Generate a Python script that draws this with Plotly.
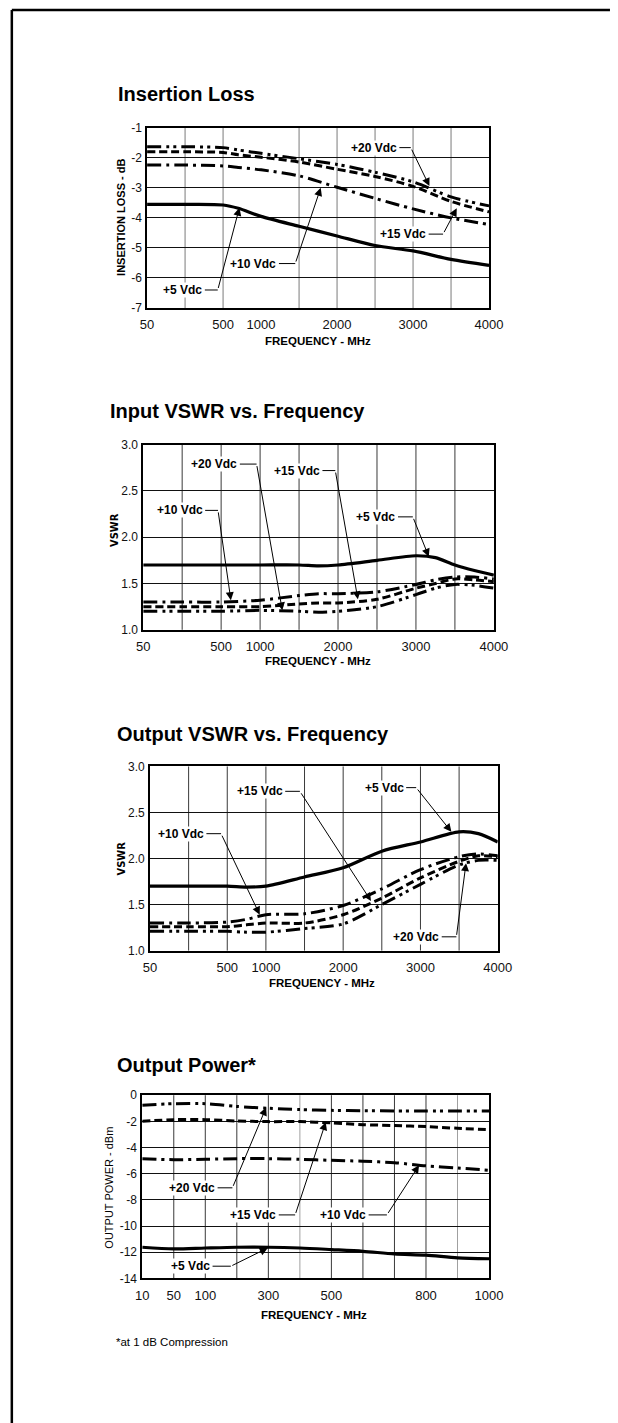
import numpy as np
import plotly.graph_objects as go

# ---------------- data ----------------
SERIES = ["+5 Vdc", "+10 Vdc", "+15 Vdc", "+20 Vdc"]

# Insertion loss (dB) vs frequency (MHz)
IL_FREQ = [50, 275, 500, 700, 1000, 1500, 2000, 2500, 3000, 3500, 4000]
IL_5V = [-3.55, -3.55, -3.57, -3.68, -3.95, -4.28, -4.60, -4.92, -5.10, -5.38, -5.58]
IL_10V = [-2.24, -2.24, -2.27, -2.32, -2.40, -2.60, -2.98, -3.35, -3.70, -4.00, -4.22]
IL_15V = [-1.80, -1.80, -1.82, -1.90, -1.98, -2.14, -2.38, -2.62, -2.95, -3.45, -3.80]
IL_20V = [-1.63, -1.63, -1.66, -1.74, -1.85, -2.03, -2.22, -2.48, -2.80, -3.30, -3.60]

# Input VSWR vs frequency (MHz)
IV_FREQ = [50, 275, 500, 1000, 1500, 1750, 2000, 2500, 3000, 3250, 3500, 3750, 4000]
IV_5V = [1.70, 1.70, 1.70, 1.70, 1.70, 1.69, 1.70, 1.75, 1.80, 1.78, 1.70, 1.64, 1.59]
IV_10V = [1.30, 1.30, 1.30, 1.32, 1.37, 1.39, 1.39, 1.41, 1.49, 1.54, 1.57, 1.57, 1.55]
IV_15V = [1.25, 1.25, 1.25, 1.25, 1.28, 1.29, 1.29, 1.33, 1.45, 1.50, 1.55, 1.54, 1.52]
IV_20V = [1.20, 1.20, 1.20, 1.21, 1.20, 1.19, 1.20, 1.25, 1.38, 1.45, 1.49, 1.48, 1.45]

# Output VSWR vs frequency (MHz)
OV_FREQ = [50, 275, 500, 750, 1000, 1500, 2000, 2500, 3000, 3500, 3750, 4000]
OV_5V = [1.70, 1.70, 1.70, 1.69, 1.70, 1.80, 1.90, 2.08, 2.18, 2.29, 2.27, 2.18]
OV_10V = [1.30, 1.30, 1.31, 1.34, 1.39, 1.40, 1.49, 1.67, 1.88, 2.02, 2.05, 2.03]
OV_15V = [1.26, 1.26, 1.26, 1.28, 1.30, 1.30, 1.39, 1.57, 1.79, 1.97, 2.03, 2.02]
OV_20V = [1.21, 1.21, 1.21, 1.20, 1.20, 1.24, 1.29, 1.50, 1.72, 1.93, 1.98, 1.98]

# Output power (dBm) vs frequency (MHz)
OP_FREQ = [10, 50, 100, 200, 300, 400, 500, 600, 700, 800, 900, 1000]
OP_5V = [-11.62, -11.75, -11.68, -11.62, -11.62, -11.68, -11.80, -11.93, -12.13, -12.23, -12.43, -12.50]
OP_10V = [-4.85, -4.93, -4.90, -4.85, -4.85, -4.90, -4.98, -5.05, -5.16, -5.40, -5.56, -5.74]
OP_15V = [-2.00, -1.87, -1.87, -1.97, -2.02, -2.02, -2.12, -2.25, -2.32, -2.40, -2.53, -2.63]
OP_20V = [-0.76, -0.65, -0.65, -0.86, -1.00, -1.10, -1.16, -1.19, -1.20, -1.20, -1.20, -1.20]

# Axis tick labels
GHZ_TICK_FREQ = [50, 500, 1000, 2000, 3000, 4000]
GHZ_GRID_FREQ = [275, 500, 1000, 1500, 2000, 2500, 3000, 3500]
PWR_TICK_FREQ = [10, 50, 100, 300, 500, 800, 1000]
PWR_GRID_FREQ = [50, 100, 200, 300, 400, 500, 600, 700, 800, 900]
IL_YTICKS = [-7, -6, -5, -4, -3, -2, -1]
VSWR_YTICKS = [1.0, 1.5, 2.0, 2.5, 3.0]
OP_YTICKS = [-14, -12, -10, -8, -6, -4, -2, 0]

# piecewise-linear frequency scales used by the original graphs
GHZ_BREAKS = ([50, 500, 4000], [0, 2, 9])
PWR_BREAKS = ([10, 50, 100, 1000], [0, 1, 2, 11])


def fscale(freq, breaks):
    return np.interp(np.asarray(freq, dtype=float), breaks[0], breaks[1])


# ---------------- layout helpers ----------------
W, H = 618, 1423
FONT = "Liberation Sans, Arial, sans-serif"
NARROW = "Liberation Sans Narrow, Arial Narrow, DejaVu Sans Condensed, Liberation Sans, sans-serif"

DASH = {
    "+5 Vdc": "solid",
    "+10 Vdc": "14px,5px,3px,5px",
    "+15 Vdc": "8px,4px",
    "+20 Vdc": "14px,5px,3px,4px,3px,5px",
}


def px_x(p):
    return p / W


def px_y(p):
    return 1 - p / H


fig = go.Figure()

# plot boxes in pixels: (left, right, top, bottom)
BOXES = [(145, 499, 122, 304), (141, 504, 442, 629), (148, 508, 767, 953), (140, 499, 1099, 1284)]

charts = [
    dict(freq=IL_FREQ, ys=[IL_5V, IL_10V, IL_15V, IL_20V], brk=GHZ_BREAKS, xt=GHZ_TICK_FREQ,
         grid=GHZ_GRID_FREQ, gridskip=[1000], yt=IL_YTICKS, ytxt=[str(v) for v in IL_YTICKS],
         yr=[-7, -1], vcol="#7a7a7a"),
    dict(freq=IV_FREQ, ys=[IV_5V, IV_10V, IV_15V, IV_20V], brk=GHZ_BREAKS, xt=GHZ_TICK_FREQ,
         grid=GHZ_GRID_FREQ, gridskip=[], yt=VSWR_YTICKS, ytxt=["%.1f" % v for v in VSWR_YTICKS],
         yr=[1, 3], vcol="#3a3a3a"),
    dict(freq=OV_FREQ, ys=[OV_5V, OV_10V, OV_15V, OV_20V], brk=GHZ_BREAKS, xt=GHZ_TICK_FREQ,
         grid=GHZ_GRID_FREQ, gridskip=[], yt=VSWR_YTICKS, ytxt=["%.1f" % v for v in VSWR_YTICKS],
         yr=[1, 3], vcol="#3a3a3a"),
    dict(freq=OP_FREQ, ys=[OP_5V, OP_10V, OP_15V, OP_20V], brk=PWR_BREAKS, xt=PWR_TICK_FREQ,
         grid=PWR_GRID_FREQ, gridskip=[], yt=OP_YTICKS, ytxt=[str(v) for v in OP_YTICKS],
         yr=[-14, 0], vcol="#3a3a3a"),
]

shapes = []
annotations = []

for i, ch in enumerate(charts):
    n = i + 1
    xa = "x" if n == 1 else "x%d" % n
    ya = "y" if n == 1 else "y%d" % n
    l, r, t, b = BOXES[i]
    xmax = float(ch["brk"][1][-1])
    for name, vals in zip(SERIES, ch["ys"]):
        fig.add_trace(go.Scatter(
            x=fscale(ch["freq"], ch["brk"]), y=vals, mode="lines", name=name,
            line=dict(color="black", width=3.2 if name == "+5 Vdc" else 3, dash=DASH[name],
                      shape="spline", smoothing=0.8),
            showlegend=False, xaxis=xa, yaxis=ya, hoverinfo="skip"))
    fig.update_layout(**{
        ("xaxis" if n == 1 else "xaxis%d" % n): dict(
            domain=[px_x(l), px_x(r)], anchor=ya, range=[0, xmax],
            tickmode="array", tickvals=list(fscale(ch["xt"], ch["brk"])),
            ticktext=[str(v) for v in ch["xt"]], ticks="", showgrid=False, zeroline=False,
            showline=True, mirror=True, linecolor="black", linewidth=1.6,
            tickfont=dict(family=FONT, size=13, color="#111"), ticklabelstandoff=4,
            fixedrange=True),
        ("yaxis" if n == 1 else "yaxis%d" % n): dict(
            domain=[px_y(b), px_y(t)], anchor=xa, range=ch["yr"],
            tickmode="array", tickvals=ch["yt"], ticktext=ch["ytxt"], ticks="",
            showgrid=True, gridcolor="#111", gridwidth=1, zeroline=False,
            showline=True, mirror=True, linecolor="black", linewidth=1.6,
            tickfont=dict(family=FONT, size=12, color="#111"), ticklabelstandoff=1,
            fixedrange=True),
    })
    # vertical grid lines
    for gf in ch["grid"]:
        if gf in ch["gridskip"]:
            continue
        gx = float(fscale(gf, ch["brk"]))
        col = ch["vcol"]
        if n == 4 and gf in (400, 900):
            col = "#a0a0a0"
        shapes.append(dict(type="line", xref=xa, yref=ya + " domain", x0=gx, x1=gx, y0=0, y1=1,
                           line=dict(color=col, width=1), layer="below"))

# ---------------- callout labels ----------------
# (chart, text, text right x, text y, elbow x, tip x, tip y)  — x in scale units
CALLOUTS = [
    (1, "+20 Vdc", 6.60, -1.66, 6.94, 7.43, -2.94),
    (1, "+15 Vdc", 7.37, -4.54, 7.79, 8.15, -3.68),
    (1, "+10 Vdc", 3.43, -5.52, 3.90, 4.57, -3.00),
    (1, "+5 Vdc", 1.48, -6.40, 1.86, 2.43, -3.66),
    (2, "+20 Vdc", 2.44, 2.79, 2.91, 3.57, 1.21),
    (2, "+15 Vdc", 4.56, 2.72, 4.93, 5.51, 1.33),
    (2, "+10 Vdc", 1.55, 2.29, 1.92, 2.25, 1.32),
    (2, "+5 Vdc", 6.50, 2.22, 6.92, 7.33, 1.79),
    (3, "+15 Vdc", 3.46, 2.73, 3.88, 5.72, 1.54),
    (3, "+5 Vdc", 6.59, 2.77, 6.89, 7.80, 2.29),
    (3, "+10 Vdc", 1.42, 2.27, 1.84, 2.84, 1.39),
    (3, "+20 Vdc", 7.51, 1.15, 7.93, 8.18, 1.95),
    (4, "+20 Vdc", 2.35, -7.08, 2.86, 3.93, -0.94),
    (4, "+15 Vdc", 4.29, -9.15, 4.85, 5.82, -2.07),
    (4, "+10 Vdc", 7.14, -9.15, 7.76, 8.78, -5.36),
    (4, "+5 Vdc", 2.19, -13.07, 2.81, 3.98, -11.68),
]
for (n, txt, tx, ty, ex, tipx, tipy) in CALLOUTS:
    xa = "x" if n == 1 else "x%d" % n
    ya = "y" if n == 1 else "y%d" % n
    annotations.append(dict(xref=xa, yref=ya, x=tx, y=ty, text="<b>%s</b>" % txt, showarrow=False,
                            xanchor="right", yanchor="middle",
                            font=dict(family=FONT, size=12, color="black"),
                            bgcolor="white", borderpad=0))
    shapes.append(dict(type="line", xref=xa, yref=ya, x0=tx + 0.04, x1=ex, y0=ty, y1=ty,
                       line=dict(color="black", width=1)))
    annotations.append(dict(xref=xa, yref=ya, x=tipx, y=tipy, axref=xa, ayref=ya, ax=ex, ay=ty,
                            text=" ", font=dict(size=1), showarrow=True, arrowhead=2,
                            arrowsize=1.6, arrowwidth=1, arrowcolor="black", standoff=0,
                            startstandoff=0))

# ---------------- titles & axis titles ----------------
TITLES = [("Insertion Loss", 113, 88), ("Input VSWR vs. Frequency", 105, 408),
          ("Output VSWR vs. Frequency", 112, 734), ("Output Power*", 112, 1069)]
for txt, x, y in TITLES:
    annotations.append(dict(xref="paper", yref="paper", x=px_x(x), y=px_y(y), text="<b>%s</b>" % txt,
                            showarrow=False, xanchor="left", yanchor="middle",
                            font=dict(family=FONT, size=20, color="black")))

XTITLES = [(322, 337), (322, 661), (326, 986), (318, 1321)]
for x, y in XTITLES:
    annotations.append(dict(xref="paper", yref="paper", x=px_x(x), y=px_y(y),
                            text="<b>FREQUENCY - MHz</b>", showarrow=False,
                            xanchor="center", yanchor="middle",
                            font=dict(family=FONT, size=11.5, color="black")))

YTITLES = [("<b>INSERTION LOSS - dB</b>", 118, 212, 11, FONT), ("<b>VSWR</b>", 112, 528, 11, NARROW),
           ("<b>VSWR</b>", 119, 860, 11, NARROW), ("OUTPUT POWER - dBm", 106, 1192, 11, FONT)]
for txt, x, y, s, fam in YTITLES:
    annotations.append(dict(xref="paper", yref="paper", x=px_x(x), y=px_y(y), text=txt,
                            showarrow=False, textangle=-90, xanchor="center", yanchor="middle",
                            font=dict(family=fam, size=s, color="black")))

annotations.append(dict(xref="paper", yref="paper", x=px_x(111), y=px_y(1348),
                        text="*at 1 dB Compression", showarrow=False, xanchor="left",
                        yanchor="middle", font=dict(family=FONT, size=11.5, color="black")))

# page border: only the left and top edges fall inside the page
shapes.append(dict(type="line", xref="paper", yref="paper", x0=px_x(5), x1=px_x(5), y0=-0.01,
                   y1=px_y(3), line=dict(color="black", width=2.5)))
shapes.append(dict(type="line", xref="paper", yref="paper", x0=px_x(5), x1=1.01, y0=px_y(3),
                   y1=px_y(3), line=dict(color="black", width=2.5)))

fig.update_layout(width=W, height=H, margin=dict(l=0, r=0, t=0, b=0),
                  paper_bgcolor="white", plot_bgcolor="white",
                  shapes=shapes, annotations=annotations, showlegend=False)

fig.write_html("out.html", config={"displayModeBar": False},
               post_script="document.body.style.margin='0px';document.body.style.overflow='hidden';")
